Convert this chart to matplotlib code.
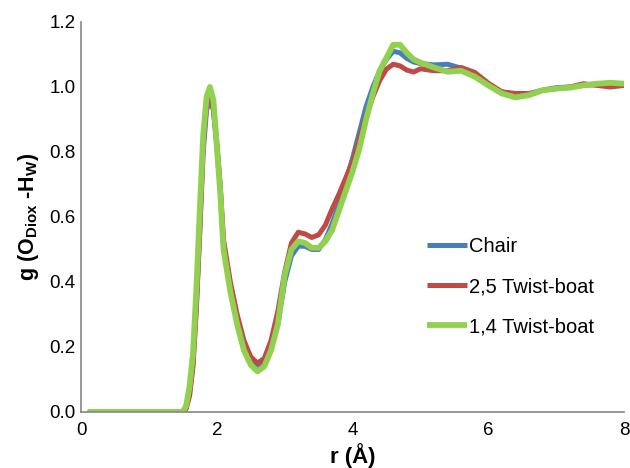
import matplotlib
matplotlib.use("Agg")
import matplotlib.pyplot as plt

plt.rcParams['font.family'] = ['Liberation Sans', 'DejaVu Sans']
plt.rcParams['mathtext.fontset'] = 'custom'
plt.rcParams['mathtext.bf'] = 'Liberation Sans:bold'
plt.rcParams['mathtext.rm'] = 'Liberation Sans'

r = [0.1, 1.4, 1.5, 1.55, 1.6, 1.65, 1.7, 1.75, 1.8, 1.85, 1.9, 1.95, 2.0, 2.05, 2.1,
     2.2, 2.3, 2.4, 2.5, 2.6, 2.7, 2.8, 2.9, 3.0, 3.1, 3.2, 3.3, 3.4, 3.5, 3.6, 3.7,
     3.8, 3.9, 4.0, 4.1, 4.2, 4.3, 4.4, 4.5, 4.6, 4.7, 4.8, 4.9, 5.0, 5.2, 5.4, 5.6,
     5.8, 6.0, 6.2, 6.4, 6.6, 6.8, 7.0, 7.2, 7.4, 7.6, 7.8, 8.0]

chair = [0, 0, 0, 0.015, 0.06, 0.15, 0.33, 0.56, 0.8, 0.93, 0.96, 0.93, 0.82, 0.69, 0.51,
         0.38, 0.28, 0.2, 0.155, 0.135, 0.15, 0.2, 0.27, 0.4, 0.48, 0.51, 0.51, 0.5, 0.5, 0.53, 0.58,
         0.64, 0.71, 0.78, 0.86, 0.94, 1.0, 1.05, 1.085, 1.11, 1.105, 1.088, 1.077, 1.072, 1.068, 1.07, 1.058,
         1.037, 1.005, 0.985, 0.978, 0.975, 0.99, 0.998, 1.0, 1.005, 1.008, 1.01, 1.005]

tb25 = [0, 0, 0, 0.01, 0.05, 0.14, 0.32, 0.56, 0.82, 0.95, 0.97, 0.93, 0.83, 0.7, 0.53,
        0.4, 0.3, 0.22, 0.17, 0.15, 0.165, 0.22, 0.31, 0.43, 0.52, 0.553, 0.548, 0.537, 0.545, 0.575, 0.625,
        0.67, 0.72, 0.77, 0.84, 0.91, 0.97, 1.02, 1.055, 1.07, 1.065, 1.052, 1.046, 1.056, 1.05, 1.05, 1.06,
        1.045, 1.012, 0.985, 0.98, 0.98, 0.99, 0.995, 1.0, 1.01, 1.005, 1.0, 1.005]

tb14 = [0, 0, 0, 0.02, 0.08, 0.18, 0.38, 0.62, 0.85, 0.97, 1.0, 0.96, 0.82, 0.68, 0.5,
        0.37, 0.27, 0.19, 0.145, 0.125, 0.14, 0.19, 0.27, 0.42, 0.5, 0.525, 0.52, 0.505, 0.505, 0.525, 0.56,
        0.62, 0.68, 0.74, 0.81, 0.9, 0.98, 1.05, 1.09, 1.13, 1.13, 1.105, 1.085, 1.075, 1.06, 1.047, 1.05,
        1.032, 1.005, 0.98, 0.968, 0.975, 0.99, 0.995, 0.998, 1.005, 1.01, 1.013, 1.01]

labels = ["Chair", "2,5 Twist-boat", "1,4 Twist-boat"]
colors = ["#4A7EBB", "#BE4B48", "#92D050"]

fig = plt.figure(figsize=(6.3, 4.68), dpi=100)
ax = fig.add_axes([0.1286, 0.1197, 0.8619, 0.8333])

for y, lab, c, lw in zip([chair, tb25, tb14], labels, colors, [3.6, 3.6, 4.2]):
    ax.plot(r, y, color=c, lw=lw, label=lab, solid_joinstyle='round', solid_capstyle='butt')

ax.set_xlim(0, 8)
ax.set_ylim(0, 1.2)
ax.set_xticks([0, 2, 4, 6, 8])
ax.set_yticks([0, 0.2, 0.4, 0.6, 0.8, 1.0, 1.2])
ax.set_yticklabels(["0.0", "0.2", "0.4", "0.6", "0.8", "1.0", "1.2"])
ax.tick_params(length=0, labelsize=13.5)
ax.tick_params(axis='x', pad=7)
ax.tick_params(axis='y', pad=4)
for s in ["top", "right"]:
    ax.spines[s].set_visible(False)
for s in ["left", "bottom"]:
    ax.spines[s].set_color("#868686")
    ax.spines[s].set_linewidth(1.2)

ax.set_xlabel("r (Å)", fontsize=16, fontweight='bold', labelpad=3)
ax.set_ylabel(r"g (O$_{\mathbf{Diox}}$ -H$_{\mathbf{W}}$)", fontsize=15.5, fontweight='bold', labelpad=6)

leg = ax.legend(loc='center left', bbox_to_anchor=(0.677, 0.387), bbox_transform=fig.transFigure,
                frameon=False, fontsize=14.5, handlelength=2.0, handletextpad=0.1,
                labelspacing=1.05, borderpad=0, borderaxespad=0)

fig.savefig("out.png", dpi=100)
